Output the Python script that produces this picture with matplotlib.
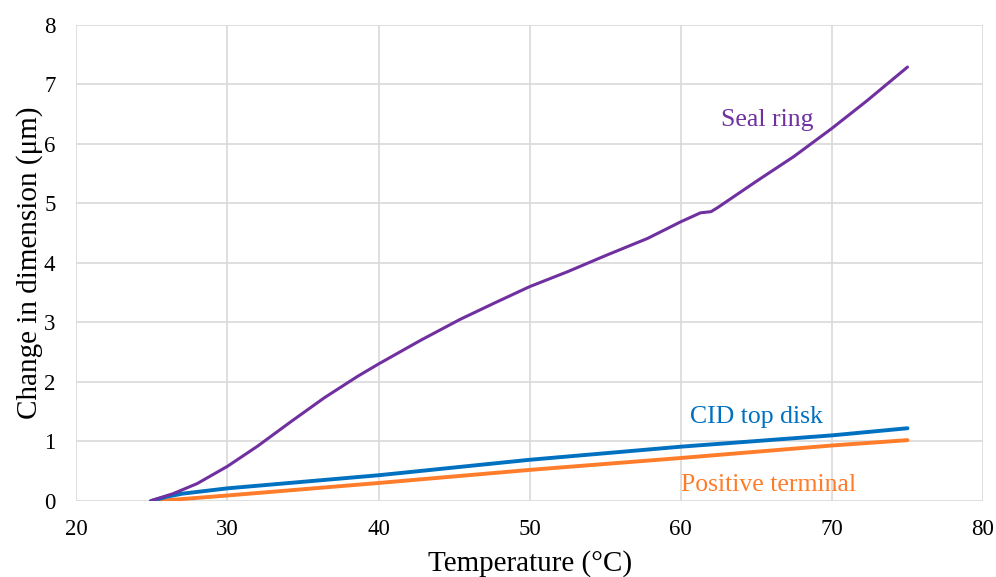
import matplotlib
matplotlib.use("Agg")
import matplotlib.pyplot as plt

plt.rcParams['font.family'] = ['Liberation Serif', 'DejaVu Serif']

# Seal ring (purple)
seal_t = [24.9, 26.4, 28.0, 30.0, 32.0, 34.2, 36.4, 38.6, 40.0, 41.4, 42.8, 45.4,
          47.8, 50.0, 52.5, 55.1, 57.8, 60.0, 61.3, 62.0, 62.45, 65.0, 67.5,
          70.0, 72.3, 75.0]
seal_d = [0.0, 0.12, 0.29, 0.58, 0.92, 1.33, 1.73, 2.09, 2.3, 2.5, 2.7, 3.05,
          3.34, 3.6, 3.85, 4.13, 4.41, 4.69, 4.84, 4.86, 4.93, 5.37, 5.79,
          6.26, 6.72, 7.29]

# CID top disk (blue)
cid_t = [25.0, 26.0, 27.0, 30.0, 40.0, 50.0, 60.0, 70.0, 75.0]
cid_d = [0.0, 0.07, 0.12, 0.21, 0.43, 0.69, 0.91, 1.1, 1.22]

# Positive terminal (orange)
pos_t = [25.5, 27.0, 30.0, 40.0, 50.0, 60.0, 70.0, 75.0]
pos_d = [0.0, 0.03, 0.09, 0.3, 0.52, 0.72, 0.93, 1.02]

purple = '#7030A0'
blue = '#0070C0'
orange = '#FF7C2A'

fig = plt.figure(figsize=(9.96, 5.77), dpi=100)
ax = fig.add_axes([0.0766, 0.132, 0.9104, 0.825])

ax.plot(pos_t, pos_d, color=orange, lw=2.8, solid_capstyle='round')
ax.plot(cid_t, cid_d, color=blue, lw=2.8, solid_capstyle='round')
ax.plot(seal_t, seal_d, color=purple, lw=2.2, solid_capstyle='round',
        solid_joinstyle='round')

ax.text(65.7, 6.4, 'Seal ring', color=purple, fontsize=18.5, ha='center', va='center')
ax.text(65.0, 1.41, 'CID top disk', color=blue, fontsize=18.5, ha='center', va='center')
ax.text(65.8, 0.27, 'Positive terminal', color=orange, fontsize=18.5, ha='center', va='center')

ax.set_xlim(20, 80)
ax.set_ylim(0, 8)
ax.set_xticks(range(20, 81, 10))
ax.set_yticks(range(0, 9))
ax.grid(True, color='#d9d9d9', lw=1.2)
ax.set_axisbelow(True)
for s in ax.spines.values():
    s.set_visible(False)
ax.tick_params(length=0, labelsize=16.5)
ax.tick_params(axis='x', pad=13)
ax.tick_params(axis='y', pad=15)

ax.set_xlabel('Temperature (°C)', fontsize=21, labelpad=7)
ax.set_ylabel('Change in dimension (μm)', fontsize=21, labelpad=1)

fig.savefig('out.png', dpi=100)
